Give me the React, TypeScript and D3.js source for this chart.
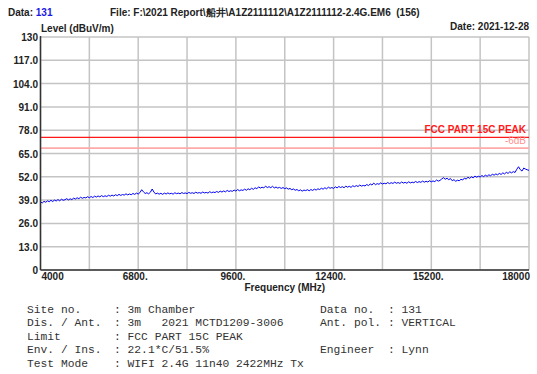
import * as d3 from "d3";

// spectrum scan, 50 MHz steps from 4000 to 18000 MHz
const freqStart = 4000;
const freqStep = 50;
const levels = [
  38.0, 37.4, 38.3, 37.8, 38.6, 38.1, 38.9, 38.2, 39.0, 38.5, 39.3, 38.6, 39.5, 38.9, 39.2, 39.8, 39.1, 39.7, 39.3, 40.1,
  39.6, 40.3, 39.8, 40.6, 40.0, 40.5, 40.2, 40.9, 40.3, 41.0, 40.4, 41.2, 40.7, 41.3, 40.8, 41.5, 40.9, 41.4, 41.0, 41.7,
  41.2, 41.8, 41.3, 42.0, 41.5, 42.2, 41.6, 42.1, 41.8, 42.5, 41.9, 42.4, 42.0, 42.7, 42.2, 42.9, 42.4, 43.2, 44.8, 43.6,
  42.7, 43.1, 42.5, 43.4, 45.2, 43.5, 42.4, 42.9, 42.3, 42.8, 42.2, 42.9, 42.4, 43.0, 42.5, 42.8, 42.3, 43.1, 42.6, 42.9,
  42.5, 43.2, 42.7, 43.0, 42.6, 43.3, 42.8, 43.1, 42.7, 43.4, 42.9, 43.2, 42.8, 43.5, 43.0, 43.3, 42.9, 43.7, 43.1, 43.5,
  43.2, 43.8, 43.3, 44.0, 43.5, 44.1, 43.6, 44.4, 43.8, 44.2, 43.9, 44.6, 44.0, 44.9, 44.2, 44.7, 44.4, 45.1, 44.5, 45.3,
  44.8, 45.6, 45.0, 45.9, 45.3, 46.4, 45.7, 46.2, 45.8, 46.8, 46.0, 46.5, 45.9, 46.7, 45.8, 46.3, 45.7, 46.1, 45.5, 46.0,
  45.4, 45.8, 45.1, 45.5, 44.8, 45.2, 44.5, 44.9, 44.2, 44.7, 44.0, 44.6, 44.3, 44.8, 44.2, 44.9, 44.4, 45.1, 44.6, 45.3,
  44.9, 45.6, 45.1, 45.9, 45.3, 46.2, 45.6, 46.0, 45.5, 46.4, 45.8, 46.6, 46.0, 46.5, 45.9, 46.8, 46.2, 46.7, 46.1, 47.0,
  46.5, 47.1, 46.6, 47.4, 46.8, 47.2, 46.9, 47.7, 47.1, 48.0, 47.4, 48.5, 47.6, 48.2, 47.8, 48.6, 48.0, 48.4, 48.1, 48.8,
  48.2, 48.7, 48.3, 49.0, 48.4, 48.8, 48.3, 49.1, 48.5, 48.9, 48.4, 49.2, 48.6, 49.0, 48.7, 49.4, 48.8, 49.3, 48.9, 49.6,
  49.0, 49.5, 49.1, 49.8, 49.2, 49.7, 49.3, 50.2, 49.6, 50.0, 50.8, 51.5, 50.6, 51.2, 50.4, 51.0, 49.8, 50.4, 49.5, 50.1,
  49.8, 50.6, 50.2, 51.3, 50.7, 51.8, 51.1, 52.0, 51.4, 52.4, 51.8, 52.3, 51.9, 52.7, 52.1, 52.9, 52.3, 53.1, 52.6, 53.4,
  52.9, 53.6, 53.1, 53.9, 53.3, 54.2, 53.6, 54.5, 53.9, 54.8, 54.2, 54.9, 54.4, 56.2, 57.6, 56.0, 55.2, 56.9, 56.3, 55.9,
  55.6,
];

const yTicks = [0, 13, 26, 39, 52, 65, 78, 91, 104, 117, 130];
const yTickLabels = ["0", "13.0", "26.0", "39.0", "52.0", "65.0", "78.0", "91.0", "104.0", "117.0", "130"];
const xGrid = [4000, 5400, 6800, 8200, 9600, 11000, 12400, 13800, 15200, 16600, 18000];
const xTicks = [4000, 6800, 9600, 12400, 15200, 18000];
const xTickLabels = ["4000", "6800.", "9600.", "12400.", "15200.", "18000"];

const limitPeak = 74;
const limitMargin = 68;

const infoLeft = [
  ["Site no.", "3m Chamber"],
  ["Dis. / Ant.", "3m   2021 MCTD1209-3006"],
  ["Limit", "FCC PART 15C PEAK"],
  ["Env. / Ins.", "22.1*C/51.5%"],
  ["Test Mode", "WIFI 2.4G 11n40 2422MHz Tx"],
];
const infoRight = [
  ["Data no.", "131"],
  ["Ant. pol.", "VERTICAL"],
  ["", ""],
  ["Engineer", "Lynn"],
  ["", ""],
];

export default function App() {
  const W = 537;
  const H = 374;
  const left = 40.5;
  const right = 529;
  const top = 37;
  const bottom = 270;

  const x = d3.scaleLinear().domain([4000, 18000]).range([left, right]);
  const y = d3.scaleLinear().domain([0, 130]).range([bottom, top]);

  const line = d3
    .line<number>()
    .x((_, i) => x(freqStart + i * freqStep))
    .y((d) => y(d));

  const bold = { fontFamily: "Liberation Sans, Arial, sans-serif", fontWeight: 700, fontSize: 10 };
  const mono = { fontFamily: "Liberation Mono, Courier New, monospace", fontSize: 11.3, fill: "#333" };

  return (
    <svg width={W} height={H} style={{ position: "absolute", left: 0, top: 0, background: "#fff" }}>
      {/* header */}
      <text x={8} y={16} {...bold} fill="#222">
        Data: <tspan fill="#1a1ae6">131</tspan>
      </text>
      <text x={110} y={16} {...bold} fill="#222" style={{ whiteSpace: "pre" }}>
        {"File: F:\\2021 Report\\船井\\A1Z2111112\\A1Z2111112-2.4G.EM6  (156)"}
      </text>
      <text x={41} y={32} {...bold} fill="#222">Level (dBuV/m)</text>
      <text x={529} y={30} {...bold} fill="#222" textAnchor="end">Date: 2021-12-28</text>

      {/* grid */}
      {yTicks.map((t) => (
        <line key={"h" + t} x1={left} x2={right} y1={y(t)} y2={y(t)} stroke="#c4c4c4" strokeWidth={1.5} />
      ))}
      {xGrid.map((t) => (
        <line key={"v" + t} x1={x(t)} x2={x(t)} y1={top} y2={bottom} stroke="#c4c4c4" strokeWidth={1.5} />
      ))}

      {/* limit lines */}
      <line x1={left} x2={right} y1={y(limitPeak)} y2={y(limitPeak)} stroke="#ff1a1a" strokeWidth={1.3} />
      <line x1={left} x2={right} y1={y(limitMargin)} y2={y(limitMargin)} stroke="#ffaaaa" strokeWidth={1.6} />
      <text x={526} y={133} {...bold} fill="#ff1a1a" textAnchor="end">FCC PART 15C PEAK</text>
      <text x={526} y={144} {...bold} fontWeight={400} fill="#ff9090" textAnchor="end">-6dB</text>

      {/* trace */}
      <path d={line(levels) || ""} fill="none" stroke="#0000ff" strokeWidth={1} />

      {/* axes */}
      <line x1={left} x2={left} y1={top - 1} y2={bottom} stroke="#333" strokeWidth={1.5} />
      <line x1={left} x2={right} y1={bottom} y2={bottom} stroke="#333" strokeWidth={1.5} />

      {yTicks.map((t, i) => (
        <text key={"yl" + t} x={38} y={y(t) + 4} {...bold} fill="#222" textAnchor="end">
          {yTickLabels[i]}
        </text>
      ))}
      {xTicks.map((t, i) => (
        <text
          key={"xl" + t}
          x={i === 0 ? left + 1 : i === xTicks.length - 1 ? right + 1 : x(t) - 3}
          y={280}
          {...bold}
          fill="#222"
          textAnchor={i === 0 ? "start" : i === xTicks.length - 1 ? "end" : "middle"}
        >
          {xTickLabels[i]}
        </text>
      ))}
      <text x={x(11000)} y={291} {...bold} fill="#222" textAnchor="middle">Frequency (MHz)</text>

      {/* info block */}
      {infoLeft.map((r, i) => (
        <g key={"il" + i} {...mono}>
          <text x={27} y={312.5 + i * 13.6}>{r[0]}</text>
          <text x={114} y={312.5 + i * 13.6} style={{ whiteSpace: "pre" }}>{": " + r[1]}</text>
        </g>
      ))}
      {infoRight.map((r, i) =>
        r[0] ? (
          <g key={"ir" + i} {...mono}>
            <text x={320} y={312.5 + i * 13.6}>{r[0]}</text>
            <text x={388} y={312.5 + i * 13.6} style={{ whiteSpace: "pre" }}>{": " + r[1]}</text>
          </g>
        ) : null
      )}
    </svg>
  );
}
